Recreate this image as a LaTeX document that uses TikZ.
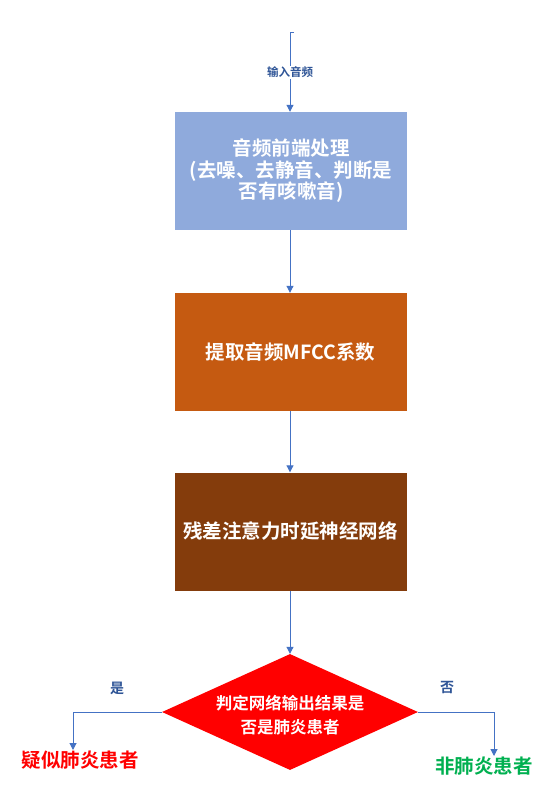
\documentclass[tikz,border=0pt]{standalone}
\usepackage{fontspec}
\newfontfamily\cjk{Noto Sans CJK SC Bold}
\usetikzlibrary{shapes.geometric,arrows.meta}
\definecolor{linec}{HTML}{4472C4}
\definecolor{boxa}{HTML}{8FAADC}
\definecolor{boxb}{HTML}{C55A11}
\definecolor{boxc}{HTML}{843C0C}
\definecolor{lblc}{HTML}{2F5597}
\definecolor{grn}{HTML}{00B050}
\begin{document}
\begin{tikzpicture}[x=1pt,y=-1pt,
  proc/.style={draw=none,minimum width=232pt,minimum height=118pt,inner sep=0pt,
    text=white,font=\cjk\fontsize{19.5}{21.5}\selectfont,align=center},
  conn/.style={draw=linec,line width=1pt,-{Triangle[length=7pt,width=7pt]}},
  lbl/.style={text=lblc,font=\cjk\fontsize{14}{16}\selectfont}]
\fill[white] (0,0) rectangle (556,794);
\coordinate (s0) at (294,33);
\coordinate (s1) at (290,33);
\node[proc,fill=boxa] (b1) at (291,171) {音频前端处理\\(去噪、去静音、判断是\\否有咳嗽音)};
\node[proc,fill=boxb] (b2) at (290.5,352) {提取音频MFCC系数};
\node[proc,fill=boxc] (b3) at (290.5,531.5) {残差注意力时延神经网络};
\node[diamond,fill=red,draw=none,minimum width=256pt,minimum height=116pt,inner sep=0pt,
  aspect=2.2] (d) at (290,712) {};
\node[text=white,font=\cjk\fontsize{16.5}{24}\selectfont,align=center] (dt) at (290,715) {判定网络输出结果是\\否是肺炎患者};
\node[text=red,font=\cjk\fontsize{19.5}{22}\selectfont,inner sep=1pt,anchor=north] (r1) at (80,750) {疑似肺炎患者};
\node[text=grn,font=\cjk\fontsize{19.5}{22}\selectfont,inner sep=1pt,anchor=north] (r2) at (484,756) {非肺炎患者};
\coordinate (lc) at (73,712);
\coordinate (rc) at (494,712);
\draw[draw=linec,line width=1pt] (s0) -- (s1);
\draw[conn] (s1) -- (b1.north -| s1) node[pos=0.5,fill=white,inner sep=1pt,text=lblc,font=\cjk\fontsize{11.5}{13}\selectfont] (in) {输入音频};
\draw[conn] (b1.south -| d) -- (b2.north -| d);
\draw[conn] (b2.south -| d) -- (b3.north -| d);
\draw[conn] (b3.south -| d) -- (d.north);
\draw[conn] (d.west) -- (lc) -- (r1.north -| lc);
\draw[conn] (d.east) -- (rc) -- (r2.north -| rc);
\node[lbl] (yes) at (117,688) {是};
\node[lbl] (no) at (447,688) {否};
\end{tikzpicture}
\end{document}
